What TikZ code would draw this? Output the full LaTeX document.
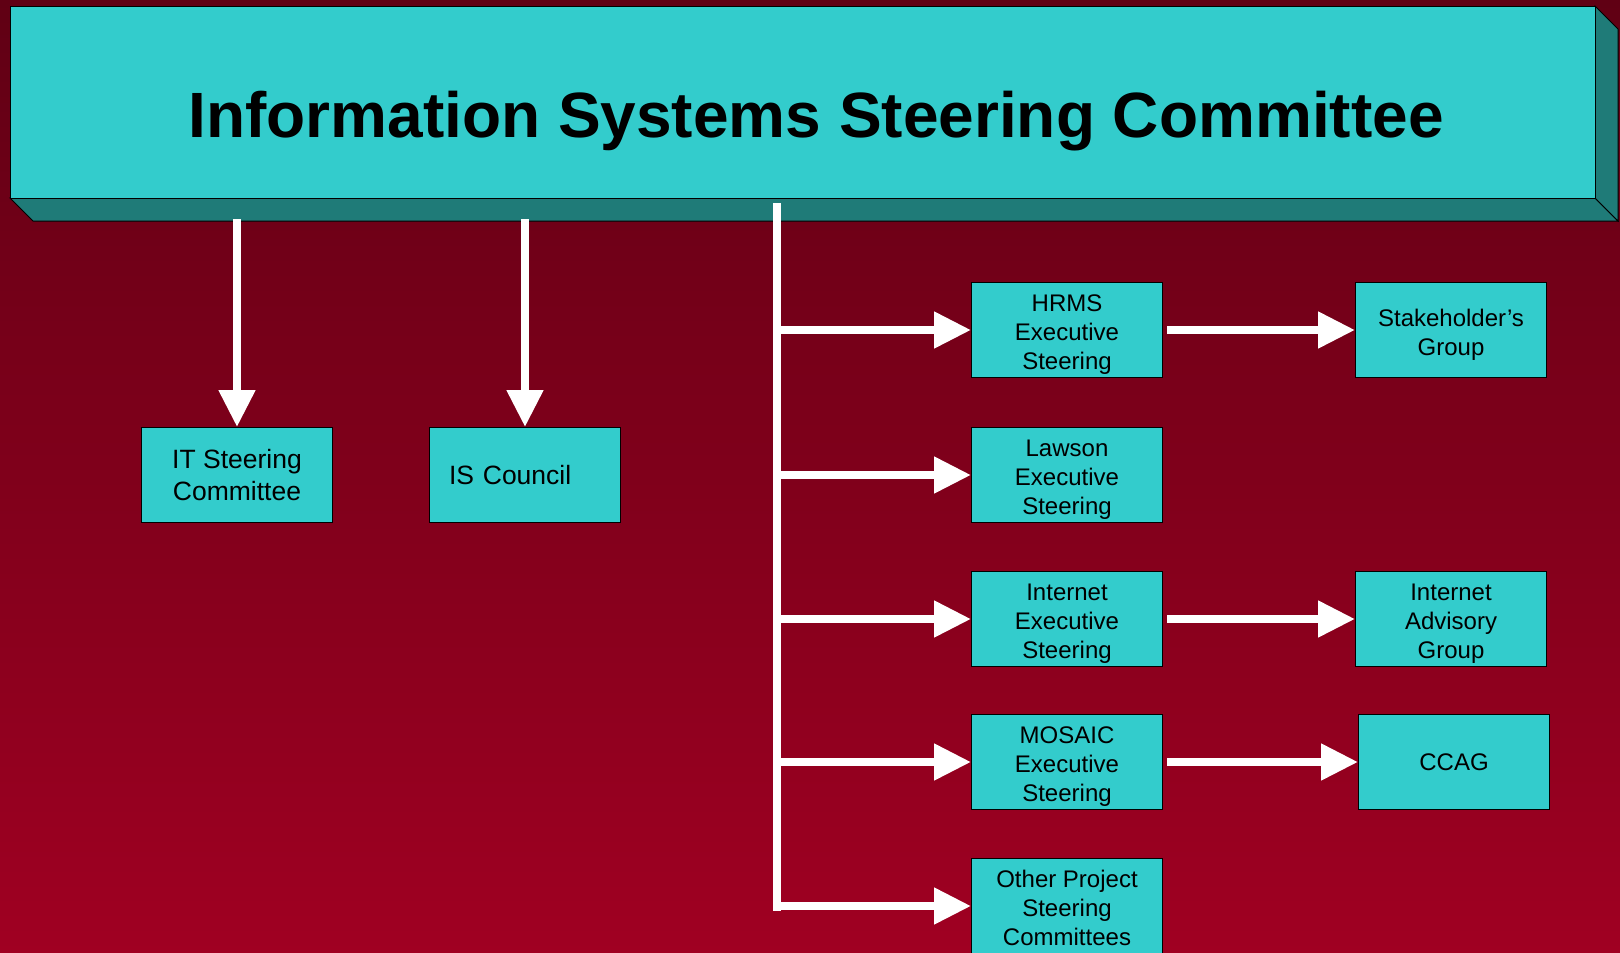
\documentclass[tikz,border=0pt]{standalone}
\usepackage{fontspec}
\setmainfont{Liberation Sans}
\usetikzlibrary{arrows.meta}
\definecolor{bgtop}{RGB}{96,0,20}
\definecolor{bgbot}{RGB}{160,0,34}
\definecolor{teal1}{RGB}{51,204,204}
\definecolor{teal2}{RGB}{31,123,120}
\newcommand\pdown{\rule{0pt}{26pt}}
\newcommand\pdownsmall{\rule{0pt}{21pt}}
\tikzset{
  box/.style={draw=black, line width=1pt, fill=teal1, minimum width=191pt, minimum height=95pt, inner sep=0pt, align=center, font=\fontsize{24}{29}\selectfont},
  bigbox/.style={box, font=\fontsize{26.5}{32}\selectfont},
  warrow/.style={draw=white, line width=8pt, -{Triangle[length=37pt,width=35pt]}},
  wline/.style={draw=white, line width=8pt},
  face/.style={draw=black, line width=1pt, line join=miter}
}
\begin{document}
\begin{tikzpicture}[x=1pt,y=-1pt]
\useasboundingbox (0,0) rectangle (1620,953);
\shade[top color=bgtop, bottom color=bgbot] (0,0) rectangle (1620,953);
% banner
\path[face, fill=teal2] (10,198) -- (1595,198) -- (1618,221) -- (33,221) -- cycle;
\path[face, fill=teal2] (1595,6) -- (1618,29) -- (1618,221) -- (1595,198) -- cycle;
\node[face, fill=teal1, minimum width=1585pt, minimum height=192pt, inner sep=0pt, anchor=north west] (banner) at (10,6) {};
\node[anchor=base, font=\fontsize{64}{77}\selectfont\bfseries] (title) at (816,137) {Information Systems Steering Committee};
% boxes
\node[bigbox] (it) at (237,475) {IT Steering\\Committee};
\node[bigbox, text width=152pt, align=left] (isc) at (525,475) {IS Council};
\node[box] (hrms) at (1067,330) {\pdown HRMS\\Executive\\Steering};
\node[box] (stake) at (1451,330) {\pdown Stakeholder’s\\Group};
\node[box] (lawson) at (1067,475) {\pdown Lawson\\Executive\\Steering};
\node[box] (inet) at (1067,619) {\pdown Internet\\Executive\\Steering};
\node[box] (iadv) at (1451,619) {\pdown Internet\\Advisory\\Group};
\node[box] (mosaic) at (1067,762) {\pdown MOSAIC\\Executive\\Steering};
\node[box] (ccag) at (1454,762) {CCAG};
\node[box] (other) at (1067,906) {\pdownsmall Other Project\\Steering\\Committees};
% connectors
\coordinate (trunktop) at (777,203);
\coordinate (trunkbot) at (777,911);
\coordinate (itsrc) at (237,219);
\coordinate (issrc) at (525,219);
\draw[wline] (trunktop) -- (trunkbot);
\draw[warrow] (itsrc) -- (it.north);
\draw[warrow] (issrc) -- (isc.north);
\draw[warrow] (trunktop |- hrms.west) -- (hrms.west);
\draw[warrow] (trunktop |- lawson.west) -- (lawson.west);
\draw[warrow] (trunktop |- inet.west) -- (inet.west);
\draw[warrow] (trunktop |- mosaic.west) -- (mosaic.west);
\draw[warrow] (trunktop |- other.west) -- (other.west);
\draw[warrow] ([xshift=4pt]hrms.east) -- (stake.west);
\draw[warrow] ([xshift=4pt]inet.east) -- (iadv.west);
\draw[warrow] ([xshift=4pt]mosaic.east) -- (ccag.west);
\end{tikzpicture}
\end{document}
